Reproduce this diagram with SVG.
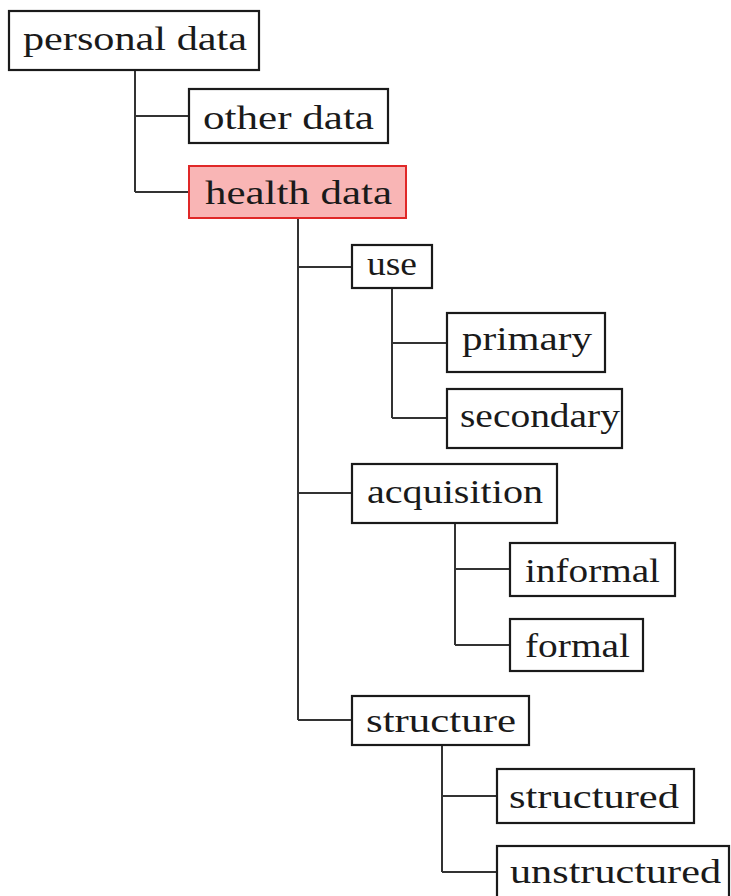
<svg xmlns="http://www.w3.org/2000/svg" width="731" height="896" viewBox="0 0 731 896">
<style>
.box{fill:#fff;stroke:#1a1a1a;stroke-width:2.2}
.hl{fill:#f9b5b5;stroke:#e02828;stroke-width:2}
.t{font-family:"Liberation Serif","Times New Roman",serif;font-size:34px;fill:#1a1a1a}
.c{fill:none;stroke:#333;stroke-width:2}
</style>
<rect width="731" height="896" fill="#fff"/>
<g id="connectors">
<path class="c" d="M135 70V192M135 116H189M135 192H189"/>
<path class="c" d="M298 218V720M298 267H352M298 493H352M298 720H352"/>
<path class="c" d="M392 288V418M392 343H447M392 418H447"/>
<path class="c" d="M455 523V645M455 569H510M455 645H510"/>
<path class="c" d="M442 745V872M442 796H497M442 872H497"/>
</g>
<g id="personal-data"><rect class="box" x="9" y="11" width="250" height="59"/><text class="t" x="23" y="50" textLength="224" lengthAdjust="spacingAndGlyphs">personal data</text></g>
<g id="other-data"><rect class="box" x="189" y="89" width="199" height="54"/><text class="t" x="203" y="129" textLength="171" lengthAdjust="spacingAndGlyphs">other data</text></g>
<g id="health-data"><rect class="hl" x="189" y="166" width="217" height="52"/><text class="t" x="205" y="204" textLength="187" lengthAdjust="spacingAndGlyphs">health data</text></g>
<g id="use"><rect class="box" x="352" y="245" width="80" height="43"/><text class="t" x="367" y="275" textLength="50" lengthAdjust="spacingAndGlyphs">use</text></g>
<g id="primary"><rect class="box" x="447" y="313" width="158" height="59"/><text class="t" x="462" y="350" textLength="130" lengthAdjust="spacingAndGlyphs">primary</text></g>
<g id="secondary"><rect class="box" x="447" y="389" width="175" height="59"/><text class="t" x="460" y="427" textLength="160" lengthAdjust="spacingAndGlyphs">secondary</text></g>
<g id="acquisition"><rect class="box" x="352" y="464" width="205" height="59"/><text class="t" x="367" y="503" textLength="176" lengthAdjust="spacingAndGlyphs">acquisition</text></g>
<g id="informal"><rect class="box" x="510" y="543" width="165" height="53"/><text class="t" x="525" y="582" textLength="135" lengthAdjust="spacingAndGlyphs">informal</text></g>
<g id="formal"><rect class="box" x="510" y="619" width="133" height="52"/><text class="t" x="525" y="657" textLength="105" lengthAdjust="spacingAndGlyphs">formal</text></g>
<g id="structure"><rect class="box" x="352" y="696" width="177" height="49"/><text class="t" x="366" y="732" textLength="150" lengthAdjust="spacingAndGlyphs">structure</text></g>
<g id="structured"><rect class="box" x="497" y="769" width="197" height="54"/><text class="t" x="509" y="808" textLength="170" lengthAdjust="spacingAndGlyphs">structured</text></g>
<g id="unstructured"><rect class="box" x="497" y="846" width="232" height="56"/><text class="t" x="510" y="883" textLength="211" lengthAdjust="spacingAndGlyphs">unstructured</text></g>
</svg>
